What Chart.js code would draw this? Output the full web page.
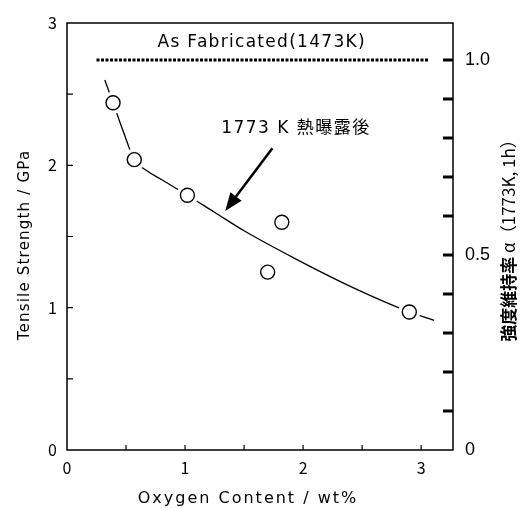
<!DOCTYPE html>
<html>
<head>
<meta charset="utf-8">
<script src="https://cdn.jsdelivr.net/npm/chart.js@4"></script>
<style>
  html, body { margin: 0; padding: 0; background: #fff; }
  #wrap { width: 522px; height: 508px; }
</style>
</head>
<body>
<div id="wrap"><canvas id="grafico"></canvas></div>
<script>
// measured points (oxygen wt%, tensile strength GPa after 1773 K exposure)
const oxygen = [0.39, 0.57, 1.02, 1.70, 1.82, 2.90];
const strength = [2.44, 2.04, 1.79, 1.25, 1.60, 0.97];

// hand-drawn trend curve
const curveX = [0.32, 0.39, 0.48, 0.57, 0.68, 0.80, 1.02, 1.25, 1.50, 1.92, 2.40, 2.90, 3.11];
const curveY = [2.60, 2.44, 2.23, 2.04, 1.96, 1.90, 1.79, 1.67, 1.54, 1.35, 1.15, 0.97, 0.91];

// as fabricated reference level (= 1.0 on the right axis)
const asFabricatedStrength = 2.74;
const asFabricatedX = [0.25, 3.06];

// tick labels and tick marks
const xTickLabels = [0, 1, 2, 3];
const yTickLabels = [0, 1, 2, 3];
const y2TickLabels = [0, 0.5, 1.0];
const xMarks = [0.5, 1, 1.5, 2, 2.5, 3];
const yMarks = [0.5, 1, 1.5, 2, 2.5];
const y2Marks = [0.1, 0.2, 0.3, 0.4, 0.5, 0.6, 0.7, 0.8, 0.9, 1.0];

// annotations (data coordinates)
const arrowTail = [1.74, 2.12];
const arrowTip = [1.34, 1.68];
const exposureLabel = { x: 1.94, y: 2.26, text: '1773 K 熱曝露後' };
const fabricatedLabel = { x: 1.65, y: 2.86, text: 'As Fabricated(1473K)' };
const xTitle = 'Oxygen Content / wt%';
const yTitle = 'Tensile Strength / GPa';
const rightTitleKanji = '強度維持率';
const rightTitleRest = ' α（1773K, 1h）';

const xMax = 3.27;
const yMax = 3;

const fonteCJK = '"Noto Sans CJK JP", "Noto Sans", sans-serif';
const fonteLatina = '"DejaVu Sans", "Noto Sans CJK JP", sans-serif';

const decor = {
  id: 'decor',
  beforeDatasetsDraw(chart) {
    const { ctx, chartArea: a, scales: { x, y, y2 } } = chart;
    ctx.save();
    ctx.strokeStyle = '#000';
    ctx.lineWidth = 1.5;
    ctx.strokeRect(a.left, a.top, a.right - a.left, a.bottom - a.top);

    ctx.lineWidth = 1.2;
    ctx.beginPath();
    for (const v of xMarks) {
      const px = x.getPixelForValue(v);
      ctx.moveTo(px, a.bottom);
      ctx.lineTo(px, a.bottom - 5);
    }
    for (const v of yMarks) {
      const py = y.getPixelForValue(v);
      ctx.moveTo(a.left, py);
      ctx.lineTo(a.left + 6, py);
    }
    ctx.stroke();

    ctx.lineWidth = 3;
    ctx.beginPath();
    for (const v of y2Marks) {
      const py = y2.getPixelForValue(v);
      ctx.moveTo(a.right, py);
      ctx.lineTo(a.right - 10, py);
    }
    ctx.stroke();
    ctx.restore();
  },
  afterDraw(chart) {
    const { ctx, chartArea: a, scales: { x, y } } = chart;
    ctx.save();
    ctx.fillStyle = '#000';
    ctx.strokeStyle = '#000';

    // arrow
    const x0 = x.getPixelForValue(arrowTail[0]), y0 = y.getPixelForValue(arrowTail[1]);
    const x1 = x.getPixelForValue(arrowTip[0]), y1 = y.getPixelForValue(arrowTip[1]);
    const ang = Math.atan2(y1 - y0, x1 - x0);
    const headLen = 18, headW = 7;
    const bx = x1 - Math.cos(ang) * headLen, by = y1 - Math.sin(ang) * headLen;
    ctx.lineWidth = 2.5;
    ctx.beginPath();
    ctx.moveTo(x0, y0);
    ctx.lineTo(bx, by);
    ctx.stroke();
    ctx.beginPath();
    ctx.moveTo(x1, y1);
    ctx.lineTo(bx + Math.sin(ang) * headW, by - Math.cos(ang) * headW);
    ctx.lineTo(bx - Math.sin(ang) * headW, by + Math.cos(ang) * headW);
    ctx.closePath();
    ctx.fill();

    // texts inside the plot
    ctx.textAlign = 'center';
    ctx.textBaseline = 'middle';
    ctx.letterSpacing = '1.3px';
    ctx.font = '17px ' + fonteLatina;
    ctx.fillText(fabricatedLabel.text, x.getPixelForValue(fabricatedLabel.x), y.getPixelForValue(fabricatedLabel.y));
    ctx.letterSpacing = '1.5px';
    ctx.fillText(exposureLabel.text, x.getPixelForValue(exposureLabel.x), y.getPixelForValue(exposureLabel.y));

    // x axis title
    ctx.letterSpacing = '2px';
    ctx.font = '16px ' + fonteLatina;
    ctx.fillText(xTitle, 248, 499);

    // left axis title
    ctx.save();
    ctx.translate(25, 245);
    ctx.rotate(-Math.PI / 2);
    ctx.letterSpacing = '1.2px';
    ctx.font = '15px ' + fonteLatina;
    ctx.fillText(yTitle, 0, 0);
    ctx.restore();

    // right axis title, reading bottom to top
    ctx.letterSpacing = '0px';
    const cy = (a.top + a.bottom) / 2;
    ctx.translate(509, cy);
    ctx.rotate(-Math.PI / 2);
    ctx.font = 'bold 17px ' + fonteCJK;
    const w1 = ctx.measureText(rightTitleKanji).width;
    ctx.font = '17px ' + fonteCJK;
    const w2 = ctx.measureText(rightTitleRest).width;
    ctx.textAlign = 'left';
    ctx.font = 'bold 17px ' + fonteCJK;
    ctx.fillText(rightTitleKanji, -(w1 + w2) / 2, 0);
    ctx.font = '17px ' + fonteCJK;
    ctx.fillText(rightTitleRest, -(w1 + w2) / 2 + w1, 0);
    ctx.restore();
  }
};

const pontos = oxygen.map((v, i) => ({ x: v, y: strength[i] }));
const curva = curveX.map((v, i) => ({ x: v, y: curveY[i] }));
const nivel = asFabricatedX.map(v => ({ x: v, y: asFabricatedStrength }));

new Chart(document.getElementById('grafico'), {
  type: 'scatter',
  data: {
    datasets: [
      {
        label: 'curve',
        type: 'line',
        data: curva,
        borderColor: '#000',
        borderWidth: 1.3,
        pointRadius: 0,
        cubicInterpolationMode: 'monotone',
        fill: false,
        order: 3
      },
      {
        label: 'as fabricated',
        type: 'line',
        data: nivel,
        borderColor: '#000',
        borderWidth: 3,
        borderDash: [3, 1.5],
        pointRadius: 0,
        fill: false,
        order: 3
      },
      {
        label: 'halo',
        data: pontos,
        pointRadius: 11,
        pointBorderWidth: 0,
        pointBackgroundColor: '#fff',
        pointBorderColor: '#fff',
        order: 2
      },
      {
        label: '1773 K',
        data: pontos,
        pointRadius: 7,
        pointBorderWidth: 1.4,
        pointBackgroundColor: '#fff',
        pointBorderColor: '#000',
        order: 1
      }
    ]
  },
  options: {
    animation: false,
    responsive: true,
    maintainAspectRatio: false,
    layout: { padding: { top: 23, left: 0, right: 0, bottom: 0 } },
    plugins: {
      legend: { display: false },
      tooltip: { enabled: false }
    },
    scales: {
      x: {
        type: 'linear',
        min: 0,
        max: xMax,
        grid: { display: false, drawTicks: false },
        border: { display: false },
        afterBuildTicks: s => { s.ticks = xTickLabels.map(v => ({ value: v })); },
        afterFit: s => { s.height = 58; },
        ticks: {
          color: '#000',
          padding: 8,
          font: { family: fonteCJK, size: 16 },
          callback: v => String(v)
        }
      },
      y: {
        type: 'linear',
        position: 'left',
        min: 0,
        max: yMax,
        grid: { display: false, drawTicks: false },
        border: { display: false },
        afterBuildTicks: s => { s.ticks = yTickLabels.map(v => ({ value: v })); },
        afterFit: s => { s.width = 67; },
        ticks: {
          color: '#000',
          padding: 10,
          font: { family: fonteCJK, size: 16 },
          callback: v => String(v)
        }
      },
      y2: {
        type: 'linear',
        position: 'right',
        min: 0,
        max: yMax / asFabricatedStrength,
        grid: { display: false, drawTicks: false },
        border: { display: false },
        afterBuildTicks: s => { s.ticks = y2TickLabels.map(v => ({ value: v })); },
        afterFit: s => { s.width = 69; },
        ticks: {
          color: '#000',
          padding: 12,
          font: { family: '"Liberation Sans", Arial, sans-serif', size: 18 },
          callback: v => (v === 0 ? '0' : v.toFixed(1))
        }
      }
    }
  },
  plugins: [decor]
});
</script>
</body>
</html>
